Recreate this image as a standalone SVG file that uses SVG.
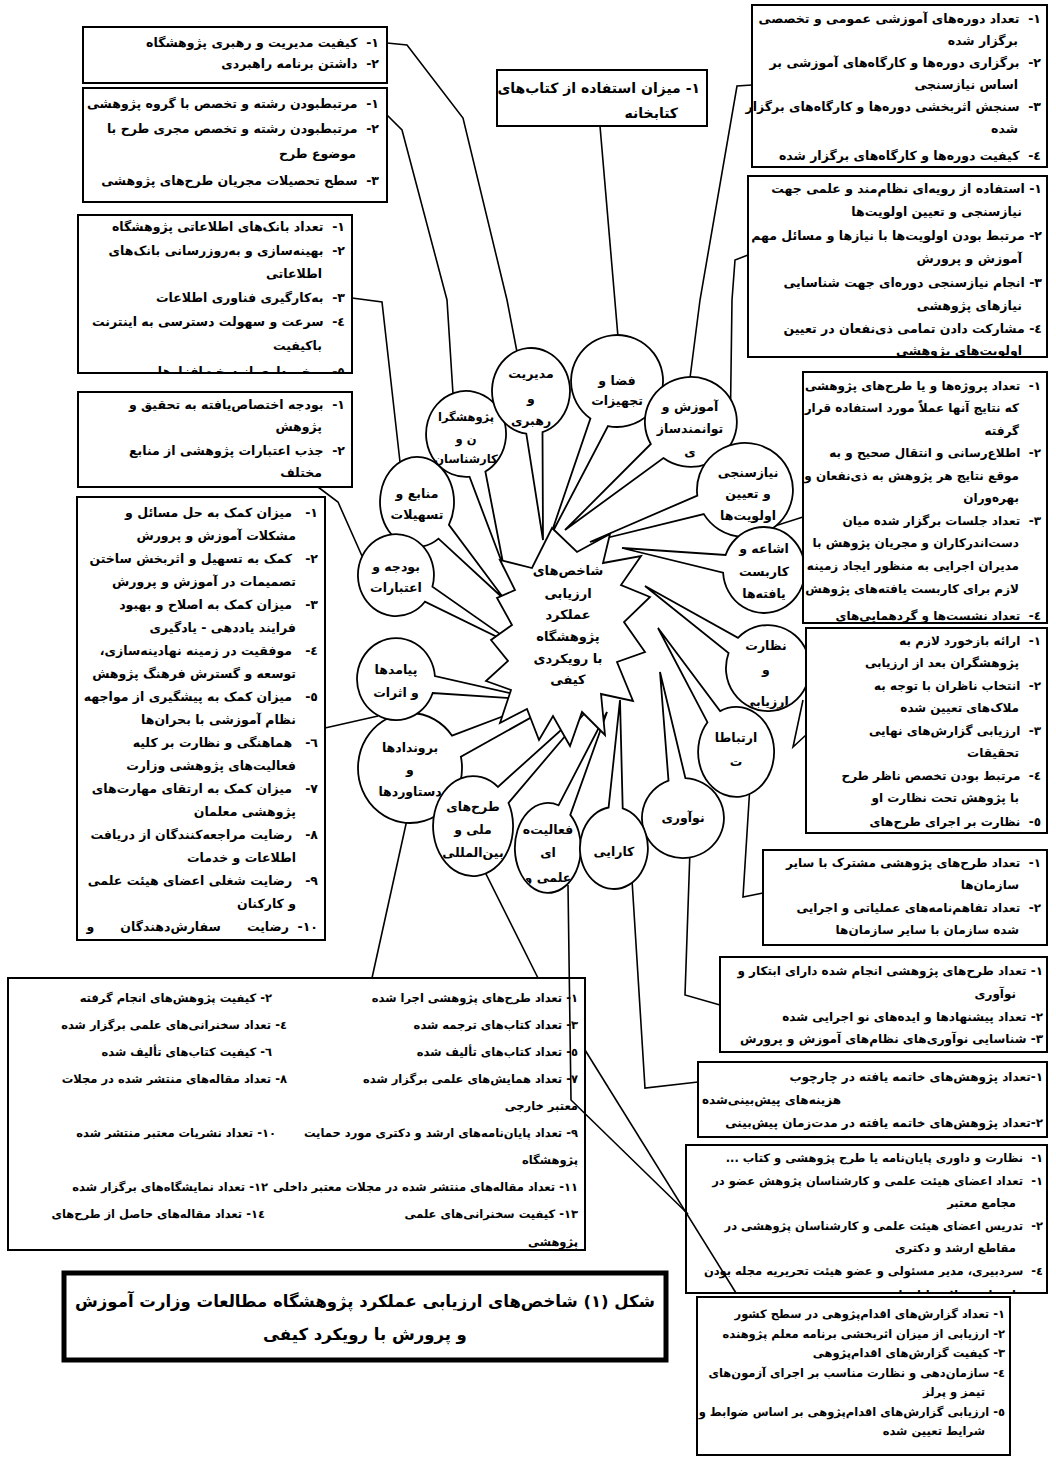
<svg xmlns="http://www.w3.org/2000/svg" width="1056" height="1470" viewBox="0 0 1056 1470">
<style>
.bx{fill:#fff;stroke:#000;stroke-width:2}
.cap{fill:#fff;stroke:#000;stroke-width:5}
.t{font-family:"DejaVu Sans","Noto Sans",sans-serif;font-size:12.5px;font-weight:bold;direction:rtl;text-anchor:start;fill:#000}
.s{font-size:12px}
.xs{font-size:11.5px}
.tl{font-family:"DejaVu Sans","Noto Sans",sans-serif;font-size:12px;font-weight:bold;direction:rtl;text-anchor:end;fill:#000}
.bub{fill:#fff;stroke:#000;stroke-width:1.8}
.bt{font-family:"DejaVu Sans","Noto Sans",sans-serif;font-size:12.5px;font-weight:bold;direction:rtl;text-anchor:middle;fill:#000}
.st{font-family:"DejaVu Sans","Noto Sans",sans-serif;font-size:13px;font-weight:bold;direction:rtl;text-anchor:middle;fill:#000}
.cn{fill:none;stroke:#000;stroke-width:1.6}
.ct{font-family:"DejaVu Sans","Noto Sans",sans-serif;font-size:16.5px;font-weight:bold;direction:rtl;text-anchor:middle;fill:#000}
</style>
<defs>
<clipPath id="clC"><rect x="78" y="215" width="274" height="158"/></clipPath>
<clipPath id="clE"><rect x="77" y="497" width="248" height="443"/></clipPath>
<clipPath id="clH"><rect x="803" y="372" width="244" height="251"/></clipPath>
<clipPath id="clI"><rect x="806" y="628" width="241" height="205"/></clipPath>
<clipPath id="clM"><rect x="686" y="1145" width="361" height="148"/></clipPath>
<clipPath id="clT"><rect x="8" y="978" width="577" height="272"/></clipPath>
<clipPath id="clN"><ellipse cx="768" cy="668" rx="41" ry="42"/></clipPath>
<clipPath id="clF"><ellipse cx="548" cy="848" rx="32" ry="44"/></clipPath>
</defs>

<g id="box-A">
<rect class="bx" x="83" y="27" width="304" height="56"/>
<text class="t" x="379" y="47">۱-&#160;&#160;کیفیت مدیریت و رهبری پژوهشگاه</text>
<text class="t" x="379" y="68">۲-&#160;&#160;داشتن برنامه راهبردی</text>
</g>
<g id="box-B">
<rect class="bx" x="83" y="88" width="304" height="114"/>
<text class="t" x="379" y="108">۱-&#160;&#160;مرتبطبودن رشته و تخصص با گروه پژوهشی</text>
<text class="t" x="379" y="133">۲-&#160;&#160;مرتبطبودن رشته و تخصص مجری طرح با</text>
<text class="t" x="356" y="158">موضوع طرح</text>
<text class="t" x="379" y="185">۳-&#160;&#160;سطح تحصیلات مجریان طرح‌های پژوهشی</text>
</g>
<g id="box-C">
<rect class="bx" x="78" y="215" width="274" height="158"/>
<g clip-path="url(#clC)">
<text class="t" x="345" y="231">۱-&#160;&#160;تعداد بانک‌های اطلاعاتی پژوهشگاه</text>
<text class="t" x="345" y="255">۲-&#160;&#160;بهینه‌سازی و به‌روزرسانی بانک‌های</text>
<text class="t" x="322" y="278">اطلاعاتی</text>
<text class="t" x="345" y="302">۳-&#160;&#160;به‌کارگیری فناوری اطلاعات</text>
<text class="t" x="345" y="326">٤-&#160;&#160;سرعت و سهولت دسترسی به اینترنت</text>
<text class="t" x="322" y="350">باکیفیت</text>
<text class="t" x="345" y="376">٥-&#160;&#160;برخورداری از سخت‌افزارها و</text>
</g>
</g>
<g id="box-D">
<rect class="bx" x="78" y="392" width="274" height="95"/>
<text class="t" x="345" y="409">۱-&#160;&#160;بودجه اختصاص‌یافته به تحقیق و</text>
<text class="t" x="322" y="431">پژوهش</text>
<text class="t" x="345" y="455">۲-&#160;&#160;جذب اعتبارات پژوهشی از منابع</text>
<text class="t" x="322" y="477">مختلف</text>
</g>
<g id="box-E">
<rect class="bx" x="77" y="497" width="248" height="443"/>
<g clip-path="url(#clE)">
<text class="t" x="318" y="517">۱-&#160;&#160;&#160;میزان کمک به حل مسائل و</text>
<text class="t" x="296" y="540">مشکلات آموزش و پرورش</text>
<text class="t" x="318" y="563">۲-&#160;&#160;&#160;کمک به تسهیل و اثربخش ساختن</text>
<text class="t" x="296" y="586">تصمیمات در آموزش و پرورش</text>
<text class="t" x="318" y="609">۳-&#160;&#160;&#160;میزان کمک به اصلاح و بهبود</text>
<text class="t" x="296" y="632">فرایند یاددهی - یادگیری</text>
<text class="t" x="318" y="655">٤-&#160;&#160;&#160;موفقیت در زمینه نهادینه‌سازی،</text>
<text class="t" x="296" y="678">توسعه و گسترش فرهنگ پژوهش</text>
<text class="t" x="318" y="701">٥-&#160;&#160;&#160;میزان کمک به پیشگیری از مواجهه</text>
<text class="t" x="296" y="724">نظام آموزشی با بحران‌ها</text>
<text class="t" x="318" y="747">٦-&#160;&#160;&#160;هماهنگی و نظارت بر کلیه</text>
<text class="t" x="296" y="770">فعالیت‌های پژوهشی وزارت</text>
<text class="t" x="318" y="793">۷-&#160;&#160;&#160;میزان کمک به ارتقای مهارت‌های</text>
<text class="t" x="296" y="816">پژوهشی معلمان</text>
<text class="t" x="318" y="839">۸-&#160;&#160;&#160;رضایت مراجعه‌کنندگان از دریافت</text>
<text class="t" x="296" y="862">اطلاعات و خدمات</text>
<text class="t" x="318" y="885">۹-&#160;&#160;&#160;رضایت شغلی اعضای هیئت علمی</text>
<text class="t" x="296" y="908">و کارکنان</text>
<text class="t" x="318" y="931">۱۰-&#160;&#160;رضایت&#160;&#160;&#160;&#160;&#160;&#160;سفارش‌دهندگان&#160;&#160;&#160;&#160;&#160;&#160;و</text>
</g>
</g>
<g id="box-library">
<rect class="bx" x="497" y="70" width="210" height="56"/>
<text class="t" x="700" y="93" style="font-size:14px">۱- میزان استفاده از کتاب‌های</text>
<text class="t" x="678" y="118" style="font-size:14px">کتابخانه</text>
</g>
<g id="box-F">
<rect class="bx" x="752" y="5" width="295" height="162"/>
<text class="t" x="1041" y="23">۱-&#160;&#160;تعداد دوره‌های آموزشی عمومی و تخصصی</text>
<text class="t" x="1018" y="45">برگزار شده</text>
<text class="t" x="1041" y="67">۲-&#160;&#160;برگزاری دوره‌ها و کارگاه‌های آموزشی بر</text>
<text class="t" x="1018" y="89">اساس نیازسنجی</text>
<text class="t" x="1041" y="111">۳-&#160;&#160;سنجش اثربخشی دوره‌ها و کارگاه‌های برگزار</text>
<text class="t" x="1018" y="133">شده</text>
<text class="t" x="1041" y="160">٤-&#160;&#160;کیفیت دوره‌ها و کارگاه‌های برگزار شده</text>
</g>
<g id="box-G">
<rect class="bx" x="748" y="176" width="299" height="181"/>
<text class="t" x="1042" y="193">۱- استفاده از رویه‌ای نظام‌مند و علمی جهت</text>
<text class="t" x="1022" y="216">نیازسنجی و تعیین اولویت‌ها</text>
<text class="t" x="1042" y="240">۲- مرتبط بودن اولویت‌ها با نیازها و مسائل مهم</text>
<text class="t" x="1022" y="263">آموزش و پرورش</text>
<text class="t" x="1042" y="287">۳- انجام نیازسنجی دوره‌ای جهت شناسایی</text>
<text class="t" x="1022" y="310">نیازهای پژوهشی</text>
<text class="t" x="1042" y="333">٤- مشارکت دادن تمامی ذی‌نفعان در تعیین</text>
<text class="t" x="1022" y="355">اولویت‌های پژوهشی</text>
</g>
<g id="box-J">
<rect class="bx" x="763" y="850" width="284" height="95"/>
<text class="t s" x="1041" y="867">۱-&#160;&#160;تعداد طرح‌های پژوهشی مشترک با سایر</text>
<text class="t s" x="1019" y="889">سازمان‌ها</text>
<text class="t s" x="1041" y="912">۲-&#160;&#160;تعداد تفاهم‌نامه‌های عملیاتی و اجرایی</text>
<text class="t s" x="1019" y="934">شده سازمان با سایر سازمان‌ها</text>
</g>
<g id="box-K">
<rect class="bx" x="720" y="957" width="327" height="95"/>
<text class="t s" x="1043" y="975">۱- تعداد طرح‌های پژوهشی انجام شده دارای ابتکار و</text>
<text class="t s" x="1016" y="998">نوآوری</text>
<text class="t s" x="1043" y="1021">۲- تعداد پیشنهادها و ایده‌های نو اجرایی شده</text>
<text class="t s" x="1043" y="1043">۳- شناسایی نوآوری‌های نظام‌های آموزش و پرورش</text>
</g>
<g id="box-L">
<rect class="bx" x="698" y="1062" width="349" height="75"/>
<text class="t s" x="1043" y="1081">۱-تعداد پژوهش‌های خاتمه یافته در چارچوب</text>
<text class="tl" x="702" y="1104">هزینه‌های پیش‌بینی‌شده</text>
<text class="t s" x="1043" y="1127">۲-تعداد پژوهش‌های خاتمه یافته در مدت‌زمان پیش‌بینی</text>
</g>
<g id="box-M">
<rect class="bx" x="686" y="1145" width="361" height="148"/>
<g clip-path="url(#clM)">
<text class="t xs" x="1043" y="1162">۱-&#160;&#160;نظارت و داوری پایان‌نامه یا طرح پژوهشی و کتاب ...</text>
<text class="t xs" x="1043" y="1185">۱-&#160;&#160;تعداد اعضای هیئت علمی و کارشناسان پژوهش عضو در</text>
<text class="t xs" x="1016" y="1207">مجامع معتبر</text>
<text class="t xs" x="1043" y="1230">۲-&#160;&#160;تدریس اعضای هیئت علمی و کارشناسان پژوهشی در</text>
<text class="t xs" x="1016" y="1252">مقاطع ارشد و دکتری</text>
<text class="t xs" x="1043" y="1275">٤-&#160;&#160;سردبیری، مدیر مسئولی و عضو هیئت تحریریه مجله بودن</text>
<text class="t xs" x="1016" y="1299">اعضای مجلات پایان‌نامه</text>
</g>
</g>
<g id="box-N">
<rect class="bx" x="697" y="1297" width="313" height="158"/>
<text class="t xs" x="1005" y="1318">۱- تعداد گزارش‌های اقدام‌پژوهی در سطح کشور</text>
<text class="t xs" x="1005" y="1338">۲- ارزیابی از میزان اثربخشی برنامه معلم پژوهنده</text>
<text class="t xs" x="1005" y="1357">۳- کیفیت گزارش‌های اقدام‌پژوهی</text>
<text class="t xs" x="1005" y="1377">٤- سازمان‌دهی و نظارت مناسب بر اجرای آزمون‌های</text>
<text class="t xs" x="985" y="1396">تیمز و پرلز</text>
<text class="t xs" x="1005" y="1416">٥- ارزیابی گزارش‌های اقدام‌پژوهی بر اساس ضوابط و</text>
<text class="t xs" x="985" y="1435">شرایط تعیین شده</text>
</g>
<g id="table-outputs">
<rect class="bx" x="8" y="978" width="577" height="272"/>
<g clip-path="url(#clT)">
<text class="t xs" x="578" y="1002">۱- تعداد طرح‌های پژوهشی اجرا شده</text>
<text class="t xs" x="272" y="1002">۲- کیفیت پژوهش‌های انجام گرفته</text>
<text class="t xs" x="578" y="1029">۳- تعداد کتاب‌های ترجمه شده</text>
<text class="t xs" x="287" y="1029">٤- تعداد سخنرانی‌های علمی برگزار شده</text>
<text class="t xs" x="578" y="1056">٥- تعداد کتاب‌های تألیف شده</text>
<text class="t xs" x="272" y="1056">٦- کیفیت کتاب‌های تألیف شده</text>
<text class="t xs" x="578" y="1083">۷- تعداد همایش‌های علمی برگزار شده</text>
<text class="t xs" x="287" y="1083">۸- تعداد مقاله‌های منتشر شده در مجلات</text>
<text class="t xs" x="578" y="1110">معتبر خارجی</text>
<text class="t xs" x="578" y="1137">۹- تعداد پایان‌نامه‌های ارشد و دکتری مورد حمایت</text>
<text class="t xs" x="276" y="1137">۱۰- تعداد نشریات معتبر منتشر شده</text>
<text class="t xs" x="578" y="1164">پژوهشگاه</text>
<text class="t xs" x="578" y="1191">۱۱- تعداد مقاله‌های منتشر شده در مجلات معتبر داخلی</text>
<text class="t xs" x="268" y="1191">۱۲- تعداد نمایشگاه‌های برگزار شده</text>
<text class="t xs" x="578" y="1218">۱۳- کیفیت سخنرانی‌های علمی</text>
<text class="t xs" x="265" y="1218">۱٤- تعداد مقاله‌های حاصل از طرح‌های</text>
<text class="t xs" x="578" y="1246">پژوهشی</text>
</g>
</g>
<g id="caption">
<rect class="cap" x="64" y="1273" width="602" height="87"/>
<text class="ct" x="365" y="1307">شکل (۱) شاخص‌های ارزیابی عملکرد پژوهشگاه مطالعات وزارت آموزش</text>
<text class="ct" x="365" y="1340">و پرورش با رویکرد کیفی</text>
</g>

<g id="connectors">
<polyline class="cn" points="387,43 407,45 463,118 507,300 517,352"/>
<polyline class="cn" points="387,115 402,130 447,300 453,394"/>
<polyline class="cn" points="352,298 382,302 400,462"/>
<polyline class="cn" points="318,487 338,502 362,556"/>
<polyline class="cn" points="325,728 378,716"/>
<polyline class="cn" points="600,126 618,337"/>
<polyline class="cn" points="752,85 737,86 700,300 690,378"/>
<polyline class="cn" points="748,255 735,260 732,300 730,445"/>
<polyline class="cn" points="803,517 762,530"/>
<polyline class="cn" points="806,735 793,747 803,700"/>
<polyline class="cn" points="763,893 743,897 750,785"/>
<polyline class="cn" points="720,1005 685,995 690,850"/>
<polyline class="cn" points="698,1082 645,1088 632,880"/>
<polyline class="cn" points="408,815 372,978"/>
<polyline class="cn" points="482,866 538,978"/>
<polyline class="cn" points="568,885 571,1100 688,1214"/>
<polyline class="cn" points="585,1050 736,1293"/>
</g>

<g id="n-researchers">
<path class="bub" d="M469.5,476.8 A40,43 0 1 1 485.4,471.6 L504,568 Z"/>
<text class="bt" x="466" y="421" style="font-size:11.5px">پژوهشگرا</text>
<text class="bt" x="466" y="443" style="font-size:11.5px">ن و</text>
<text class="bt" x="466" y="463" style="font-size:11.5px">کارشناسان</text>
</g>
<g id="n-resources">
<path class="bub" d="M438.5,538.6 A37,45 0 1 1 448.9,524.8 L505,600 Z"/>
<text class="bt" x="417" y="498">منابع و</text>
<text class="bt" x="417" y="519">تسهیلات</text>
</g>
<g id="n-budget">
<path class="bub" d="M424.9,601.7 A38,41 0 1 1 432.4,586.7 L520,648 Z"/>
<text class="bt" x="396" y="571">بودجه و</text>
<text class="bt" x="396" y="592">اعتبارات</text>
</g>
<g id="n-management">
<path class="bub" d="M526.3,433.7 A39,43 0 1 1 542.5,432.1 L543,540 Z"/>
<text class="bt" x="531" y="378">مدیریت</text>
<text class="bt" x="531" y="403">و</text>
<text class="bt" x="531" y="425">رهبری</text>
</g>
<g id="n-space">
<path class="bub" d="M590.4,418.5 A46,46 0 1 1 608,426.1 L550,537 Z"/>
<text class="bt" x="617" y="385">فضا و</text>
<text class="bt" x="617" y="405">تجهیزات</text>
</g>
<g id="n-training">
<path class="bub" d="M650.8,444 A46,45 0 1 1 663.4,458 L565,530 Z"/>
<text class="bt" x="690" y="411">آموزش و</text>
<text class="bt" x="690" y="433">توانمندساز</text>
<text class="bt" x="690" y="456">ی</text>
</g>
<g id="n-needs">
<path class="bub" d="M697.3,495.6 A48,47 0 1 1 703.8,514.1 L590,542 Z"/>
<text class="bt" x="748" y="477">نیازسنجی</text>
<text class="bt" x="748" y="498">و تعیین</text>
<text class="bt" x="748" y="520">اولویت‌ها</text>
</g>
<g id="n-dissemination">
<path class="bub" d="M725.6,555 A41,43 0 1 1 723.1,572.7 L622,548 Z"/>
<text class="bt" x="764" y="553">اشاعه و</text>
<text class="bt" x="764" y="576">کاربست</text>
<text class="bt" x="764" y="598">یافته‌ها</text>
</g>
<g id="n-supervision">
<path class="bub" d="M738,637.9 A42,43 0 1 1 728.6,653 L645,586 Z"/>
<g clip-path="url(#clN)">
<text class="bt" x="766" y="650">نظارت</text>
<text class="bt" x="766" y="674">و</text>
<text class="bt" x="766" y="706">ارزیابی</text>
</g>
</g>
<g id="n-communication">
<path class="bub" d="M720.1,711.1 A38,45 0 1 1 707.5,722.3 L658,628 Z"/>
<text class="bt" x="736" y="742">ارتباطا</text>
<text class="bt" x="736" y="766">ت</text>
</g>
<g id="n-innovation">
<path class="bub" d="M685.4,778.1 A41,40 0 1 1 668.5,780.6 L660,672 Z"/>
<text class="bt" x="683" y="822">نوآوری</text>
</g>
<g id="n-outputs">
<path class="bub" d="M460.9,756.7 A52,55 0 1 1 452.1,735.7 L598,680 Z"/>
<text class="bt" x="410" y="752">بروندادها</text>
<text class="bt" x="410" y="774">و</text>
<text class="bt" x="410" y="796">دستاوردها</text>
</g>
<g id="n-outcomes">
<path class="bub" d="M432.7,693 A39,41 0 1 1 434.9,676.1 L540,700 Z"/>
<text class="bt" x="396" y="674">پیامدها</text>
<text class="bt" x="396" y="697">و اثرات</text>
</g>
<g id="n-projects">
<path class="bub" d="M508.5,802.9 A40,50 0 1 1 497.9,786.9 L600,695 Z"/>
<text class="bt" x="473" y="811">طرح‌های</text>
<text class="bt" x="473" y="834">ملی و</text>
<text class="bt" x="473" y="857">بین‌المللی</text>
</g>
<g id="n-activities">
<path class="bub" d="M570.3,814.9 A33,45 0 1 1 558.5,805.3 L607,712 Z"/>
<g clip-path="url(#clF)">
<text class="bt" x="548" y="834">فعالیت‌ه</text>
<text class="bt" x="548" y="857">ای</text>
<text class="bt" x="548" y="882">علمی و</text>
</g>
</g>
<g id="n-efficiency">
<path class="bub" d="M622.7,808.4 A34,41 0 1 1 608.6,807.5 L620,700 Z"/>
<text class="bt" x="614" y="856">کارایی</text>
</g>

<g id="n-center">
<polygon class="bub" points="552,528 577,552 610,534 603,563 641,556 621,585 650,597 624,622 645,652 617,662 633,701 601,694 605,735 582,712 570,746 553,716 539,740 527,709 500,723 511,690 486,681 508,661 491,640 512,625 497,598 515,590 500,560 532,568"/>
<text class="st" x="568" y="575">شاخص‌های</text>
<text class="st" x="568" y="598">ارزیابی</text>
<text class="st" x="568" y="619">عملکرد</text>
<text class="st" x="568" y="641">پژوهشگاه</text>
<text class="st" x="568" y="663">با رویکردی</text>
<text class="st" x="568" y="684">کیفی</text>
</g>

<g id="box-H">
<rect class="bx" x="803" y="372" width="244" height="251"/>
<g clip-path="url(#clH)">
<text class="t s" x="1041" y="390">۱-&#160;&#160;تعداد پروژه‌ها و یا طرح‌های پژوهشی</text>
<text class="t s" x="1019" y="412">که نتایج آنها عملاً مورد استفاده قرار</text>
<text class="t s" x="1019" y="435">گرفته</text>
<text class="t s" x="1041" y="457">۲-&#160;&#160;اطلاع‌رسانی و انتقال صحیح و به</text>
<text class="t s" x="1019" y="480">موقع نتایج هر پژوهش به ذی‌نفعان و</text>
<text class="t s" x="1019" y="502">بهره‌وران</text>
<text class="t s" x="1041" y="525">۳-&#160;&#160;تعداد جلسات برگزار شده میان</text>
<text class="t s" x="1019" y="547">دست‌اندرکاران و مجریان پژوهش با</text>
<text class="t s" x="1019" y="570">مدیران اجرایی به منظور ایجاد زمینه</text>
<text class="t s" x="1019" y="593">لازم برای کاربست یافته‌های پژوهش</text>
<text class="t s" x="1041" y="620">٤-&#160;&#160;تعداد نشست‌ها و گردهمایی‌های</text>
</g>
</g>
<g id="box-I">
<rect class="bx" x="806" y="628" width="241" height="205"/>
<g clip-path="url(#clI)">
<text class="t s" x="1041" y="645">۱-&#160;&#160;ارائه بازخورد لازم به</text>
<text class="t s" x="1019" y="667">پژوهشگران بعد از ارزیابی</text>
<text class="t s" x="1041" y="690">۲-&#160;&#160;انتخاب ناظران با توجه به</text>
<text class="t s" x="1019" y="712">ملاک‌های تعیین شده</text>
<text class="t s" x="1041" y="735">۳-&#160;&#160;ارزیابی گزارش‌های نهایی</text>
<text class="t s" x="1019" y="757">تحقیقات</text>
<text class="t s" x="1041" y="780">٤-&#160;&#160;مرتبط بودن تخصص ناظر طرح</text>
<text class="t s" x="1019" y="802">با پژوهش تحت نظارت او</text>
<text class="t s" x="1041" y="826">٥-&#160;&#160;نظارت بر اجرای طرح‌های</text>
</g>
</g>
</svg>
